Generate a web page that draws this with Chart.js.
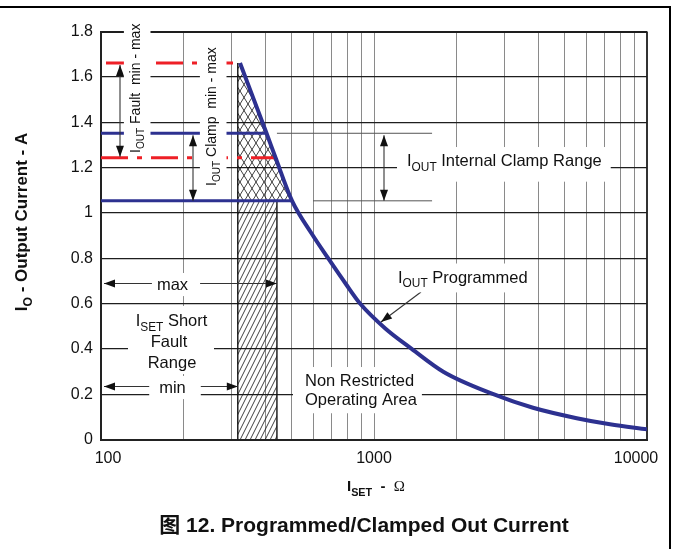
<!DOCTYPE html>
<html>
<head>
<meta charset="utf-8">
<script src="https://cdn.jsdelivr.net/npm/chart.js@4.4.1/dist/chart.umd.min.js"></script>
<style>
  html, body { margin: 0; padding: 0; background: #fff; }
  #wrap { position: relative; width: 673px; height: 549px; }
</style>
</head>
<body>
<div id="wrap"><canvas id="chart"></canvas></div>
<script>
// values
const xTicks = [100, 200, 300, 400, 500, 600, 700, 800, 900,
                1000, 2000, 3000, 4000, 5000, 6000, 7000, 8000, 9000, 10000];
const xLabelValues = [100, 1000, 10000];
const xLabels = ['100', '1000', '10000'];
const yTicks = [0, 0.2, 0.4, 0.6, 0.8, 1, 1.2, 1.4, 1.6, 1.8];
const yLabels = ['0', '0.2', '0.4', '0.6', '0.8', '1', '1.2', '1.4', '1.6', '1.8'];

// I_OUT programmed curve (R_ISET in ohm, current in A)
const rSet = [323, 404, 436, 501, 590, 679, 790, 889, 1100, 1374, 1800, 2737, 3823, 5527, 7319, 10000];
const iOut = [1.661, 1.351, 1.243, 1.053, 0.91, 0.80, 0.685, 0.60, 0.49, 0.40, 0.298, 0.20, 0.14, 0.094, 0.067, 0.045];

const faultLimits = [1.661, 1.243];   // I_OUT fault max / min
const clampLimits = [1.351, 1.053];   // I_OUT clamp max / min
const shortFault = [317, 441];        // I_SET short fault range min / max (ohm)
const clampExtStart = [441, 598];     // internal clamp range guide lines
const clampExtEnd = 1632;

const NAVY = '#2d3190';
const RED = '#ee1f26';
const SANS = '"Liberation Sans", Arial, "Noto Sans CJK SC", sans-serif';
const SERIF = '"Liberation Serif", "DejaVu Serif", serif';

const canvas = document.getElementById('chart');
const ctx0 = canvas.getContext('2d');

function hatch(w, h, cross) {
  const c = document.createElement('canvas');
  c.width = w; c.height = h;
  const g = c.getContext('2d');
  g.strokeStyle = '#111';
  g.lineWidth = 0.8;
  g.beginPath();
  for (const dx of [-w, 0, w]) {
    g.moveTo(dx, h); g.lineTo(dx + w, 0);
    if (cross) { g.moveTo(dx, 0); g.lineTo(dx + w, h); }
  }
  g.stroke();
  return ctx0.createPattern(c, 'repeat');
}

// where the curve reaches a given current (log-R interpolation between read points)
function rAt(cur) {
  for (let i = 0; i < iOut.length - 1; i++) {
    if (cur <= iOut[i] && cur >= iOut[i + 1]) {
      const t = (iOut[i] - cur) / (iOut[i] - iOut[i + 1]);
      return Math.pow(10, Math.log10(rSet[i]) + t * (Math.log10(rSet[i + 1]) - Math.log10(rSet[i])));
    }
  }
  return rSet[0];
}

const curvePts = rSet.map((r, i) => ({ x: r, y: iOut[i] }));
const crossPts = [{ x: shortFault[0], y: faultLimits[0] }]
  .concat(curvePts.filter(p => p.y >= clampLimits[1]));

function hLine(y, x1, x2, color, width, extra) {
  return Object.assign({
    data: [{ x: x1, y: y }, { x: x2, y: y }],
    borderColor: color, borderWidth: width, pointRadius: 0, fill: false, tension: 0
  }, extra || {});
}
function vLine(x, y1, y2) {
  return {
    data: [{ x: x, y: y1 }, { x: x, y: y2 }],
    borderColor: '#111', borderWidth: 1.4, pointRadius: 0, fill: false, order: 3
  };
}

// ---- text helpers ----
function fontOf(p, size, weight) {
  const s = p.sub ? size * 0.72 : size;
  return `${p.w || weight} ${s}px ${p.f || SANS}`;
}
function measure(ctx, parts, size, weight) {
  let w = 0;
  parts.forEach(p => { ctx.font = fontOf(p, size, weight); w += ctx.measureText(p.t).width; });
  return w;
}
function label(ctx, parts, x, y, size, o) {
  o = o || {};
  const weight = o.weight || 'normal';
  ctx.save();
  ctx.translate(x, y);
  if (o.rot) ctx.rotate(-Math.PI / 2);
  const w = measure(ctx, parts, size, weight);
  const x0 = o.center ? -w / 2 : 0;
  if (o.box) {
    const b = o.box;
    ctx.fillStyle = '#fff';
    ctx.fillRect(x0 - b[0], -size * b[1], w + b[0] + b[2], size * (b[1] + b[3]));
  }
  ctx.fillStyle = '#111';
  ctx.textAlign = 'left';
  ctx.textBaseline = 'alphabetic';
  let cx = x0;
  parts.forEach(p => {
    ctx.font = fontOf(p, size, weight);
    ctx.fillText(p.t, cx, p.sub ? size * 0.3 : 0);
    cx += ctx.measureText(p.t).width;
  });
  ctx.restore();
}
function arrow(ctx, x1, y1, x2, y2, both) {
  ctx.save();
  ctx.strokeStyle = '#333';
  ctx.lineWidth = 1.1;
  ctx.beginPath(); ctx.moveTo(x1, y1); ctx.lineTo(x2, y2); ctx.stroke();
  ctx.fillStyle = '#111';
  const head = (tx, ty, fx, fy) => {
    const a = Math.atan2(ty - fy, tx - fx), L = 11, W = 4;
    ctx.beginPath();
    ctx.moveTo(tx, ty);
    ctx.lineTo(tx - L * Math.cos(a) + W * Math.sin(a), ty - L * Math.sin(a) - W * Math.cos(a));
    ctx.lineTo(tx - L * Math.cos(a) - W * Math.sin(a), ty - L * Math.sin(a) + W * Math.cos(a));
    ctx.closePath(); ctx.fill();
  };
  head(x2, y2, x1, y1);
  if (both) head(x1, y1, x2, y2);
  ctx.restore();
}

const decorate = {
  id: 'decorate',
  afterDraw(chart) {
    const ctx = chart.ctx, ca = chart.chartArea;
    const X = v => chart.scales.x.getPixelForValue(v);
    const Y = v => chart.scales.y.getPixelForValue(v);
    const I = (main, sub, rest) => [{ t: main }, { t: sub, sub: true }, { t: rest }];

    // arrows
    arrow(ctx, 120, Y(faultLimits[0]) + 2, 120, Y(faultLimits[1]) - 1, true);
    arrow(ctx, 193, Y(clampLimits[0]) + 2, 193, Y(clampLimits[1]), true);
    arrow(ctx, 384, Y(clampLimits[0]) + 2, 384, Y(clampLimits[1]), true);
    arrow(ctx, ca.left + 3, 283.5, X(shortFault[1]), 283.5, true);
    arrow(ctx, ca.left + 3, 386.5, X(shortFault[0]), 386.5, true);
    arrow(ctx, 421, 292, 381, 322, false);

    // text with white knock-out boxes
    label(ctx, I('I', 'OUT', ' Fault  min - max'), 140, 153, 14, { rot: true, box: [3, 1.15, 3, 0.75] });
    label(ctx, I('I', 'OUT', ' Clamp  min - max'), 216, 186, 14, { rot: true, box: [3, 1.15, 3, 0.75] });
    label(ctx, I('I', 'OUT', ' Internal Clamp Range'), 407, 166, 16.5, { box: [10, 1.15, 9, 0.95] });
    label(ctx, I('I', 'OUT', ' Programmed'), 398, 282.5, 16.5, { box: [5, 1.15, 5, 0.6] });
    label(ctx, [{ t: 'Non Restricted' }], 305, 386, 16.5, { box: [12, 1.15, 5, 0.5] });
    label(ctx, [{ t: 'Operating Area' }], 305, 405, 16.5, { box: [12, 1.15, 5, 0.5] });
    ctx.fillStyle = '#fff';
    ctx.fillRect(128, 306, 86, 68);
    label(ctx, I('I', 'SET', ' Short'), 171.5, 326, 16.5, { center: true });
    label(ctx, [{ t: 'Fault' }], 169, 347, 16.5, { center: true });
    label(ctx, [{ t: 'Range' }], 172, 368, 16.5, { center: true });
    label(ctx, [{ t: 'max' }], 172.5, 289.5, 16.5, { center: true, box: [5, 1.0, 12, 0.4] });
    label(ctx, [{ t: 'min' }], 172.5, 392.5, 16.5, { center: true, box: [10, 1.0, 15, 0.4] });

    // tick labels
    ctx.save();
    ctx.fillStyle = '#111';
    ctx.font = `16px ${SANS}`;
    ctx.textBaseline = 'middle';
    ctx.textAlign = 'right';
    yTicks.forEach((v, i) => ctx.fillText(yLabels[i], ca.left - 8, Y(v)));
    ctx.textAlign = 'center';
    const nudge = [7, 0, -11];
    xLabelValues.forEach((v, i) => ctx.fillText(xLabels[i], X(v) + nudge[i], ca.bottom + 19));
    ctx.restore();

    // axis titles and caption
    label(ctx, I('I', 'O', ' - Output Current - A'), 27, 222, 17, { rot: true, center: true, weight: 'bold' });
    label(ctx, [{ t: 'I' }, { t: 'SET', sub: true }, { t: '  -  ' }, { t: '\u03A9', f: SERIF, w: 'normal' }],
      347, 491, 15, { weight: 'bold' });
    label(ctx, [{ t: '图 12. Programmed/Clamped Out Current' }], 364, 532, 21, { center: true, weight: 'bold' });

    // outer frame (top and right edges)
    ctx.save();
    ctx.strokeStyle = '#000';
    ctx.lineWidth = 2;
    ctx.beginPath();
    ctx.moveTo(0, 7); ctx.lineTo(670, 7); ctx.lineTo(670, 549);
    ctx.stroke();
    ctx.restore();
  }
};

new Chart(canvas, {
  type: 'line',
  data: {
    datasets: [
      { data: curvePts, borderColor: NAVY, borderWidth: 4, pointRadius: 0, fill: false,
        cubicInterpolationMode: 'monotone', order: 0 },
      hLine(faultLimits[0], 100, rAt(faultLimits[0]), RED, 3, { borderDash: [27, 9, 5, 9], borderDashOffset: 45, order: 1 }),
      hLine(faultLimits[1], 100, rAt(faultLimits[1]), RED, 3, { borderDash: [27, 9, 5, 9], order: 1 }),
      hLine(clampLimits[0], 100, rAt(clampLimits[0]), NAVY, 3, { order: 1 }),
      hLine(clampLimits[1], 100, rAt(clampLimits[1]), NAVY, 3, { order: 1 }),
      hLine(clampLimits[0], clampExtStart[0], clampExtEnd, '#555', 1, { order: 2 }),
      hLine(clampLimits[1], clampExtStart[1], clampExtEnd, '#555', 1, { order: 2 }),
      vLine(shortFault[0], 0, faultLimits[0]),
      vLine(shortFault[1], 0, clampLimits[1]),
      { data: crossPts, borderColor: 'rgba(0,0,0,0)', borderWidth: 0, pointRadius: 0, tension: 0,
        backgroundColor: hatch(8, 13, true), fill: { value: clampLimits[1] }, order: 10 },
      { data: [{ x: shortFault[0], y: clampLimits[1] }, { x: shortFault[1], y: clampLimits[1] }],
        borderColor: 'rgba(0,0,0,0)', borderWidth: 0, pointRadius: 0,
        backgroundColor: hatch(5, 10, false), fill: { value: 0 }, order: 10 }
    ]
  },
  options: {
    responsive: true,
    maintainAspectRatio: false,
    animation: false,
    layout: { padding: { left: 101, top: 31.5, right: 26, bottom: 109.5 } },
    plugins: { legend: { display: false }, tooltip: { enabled: false } },
    scales: {
      x: {
        type: 'logarithmic', min: 100, max: 10000,
        afterBuildTicks: s => { s.ticks = xTicks.map(v => ({ value: v })); },
        ticks: { display: false },
        grid: {
          drawTicks: false,
          color: c => (c.tick && c.tick.value === 10000 ? '#333' : '#8a8a8a'),
          lineWidth: c => (c.tick && c.tick.value === 10000 ? 2 : 1)
        },
        border: { color: '#222', width: 2 }
      },
      y: {
        type: 'linear', min: 0, max: 1.8,
        afterBuildTicks: s => { s.ticks = yTicks.map(v => ({ value: v })); },
        ticks: { display: false },
        grid: {
          drawTicks: false,
          color: '#1e1e1e',
          lineWidth: c => (c.tick && c.tick.value === 1.8 ? 2 : 1.2)
        },
        border: { color: '#222', width: 2 }
      }
    }
  },
  plugins: [decorate]
});
</script>
</body>
</html>
